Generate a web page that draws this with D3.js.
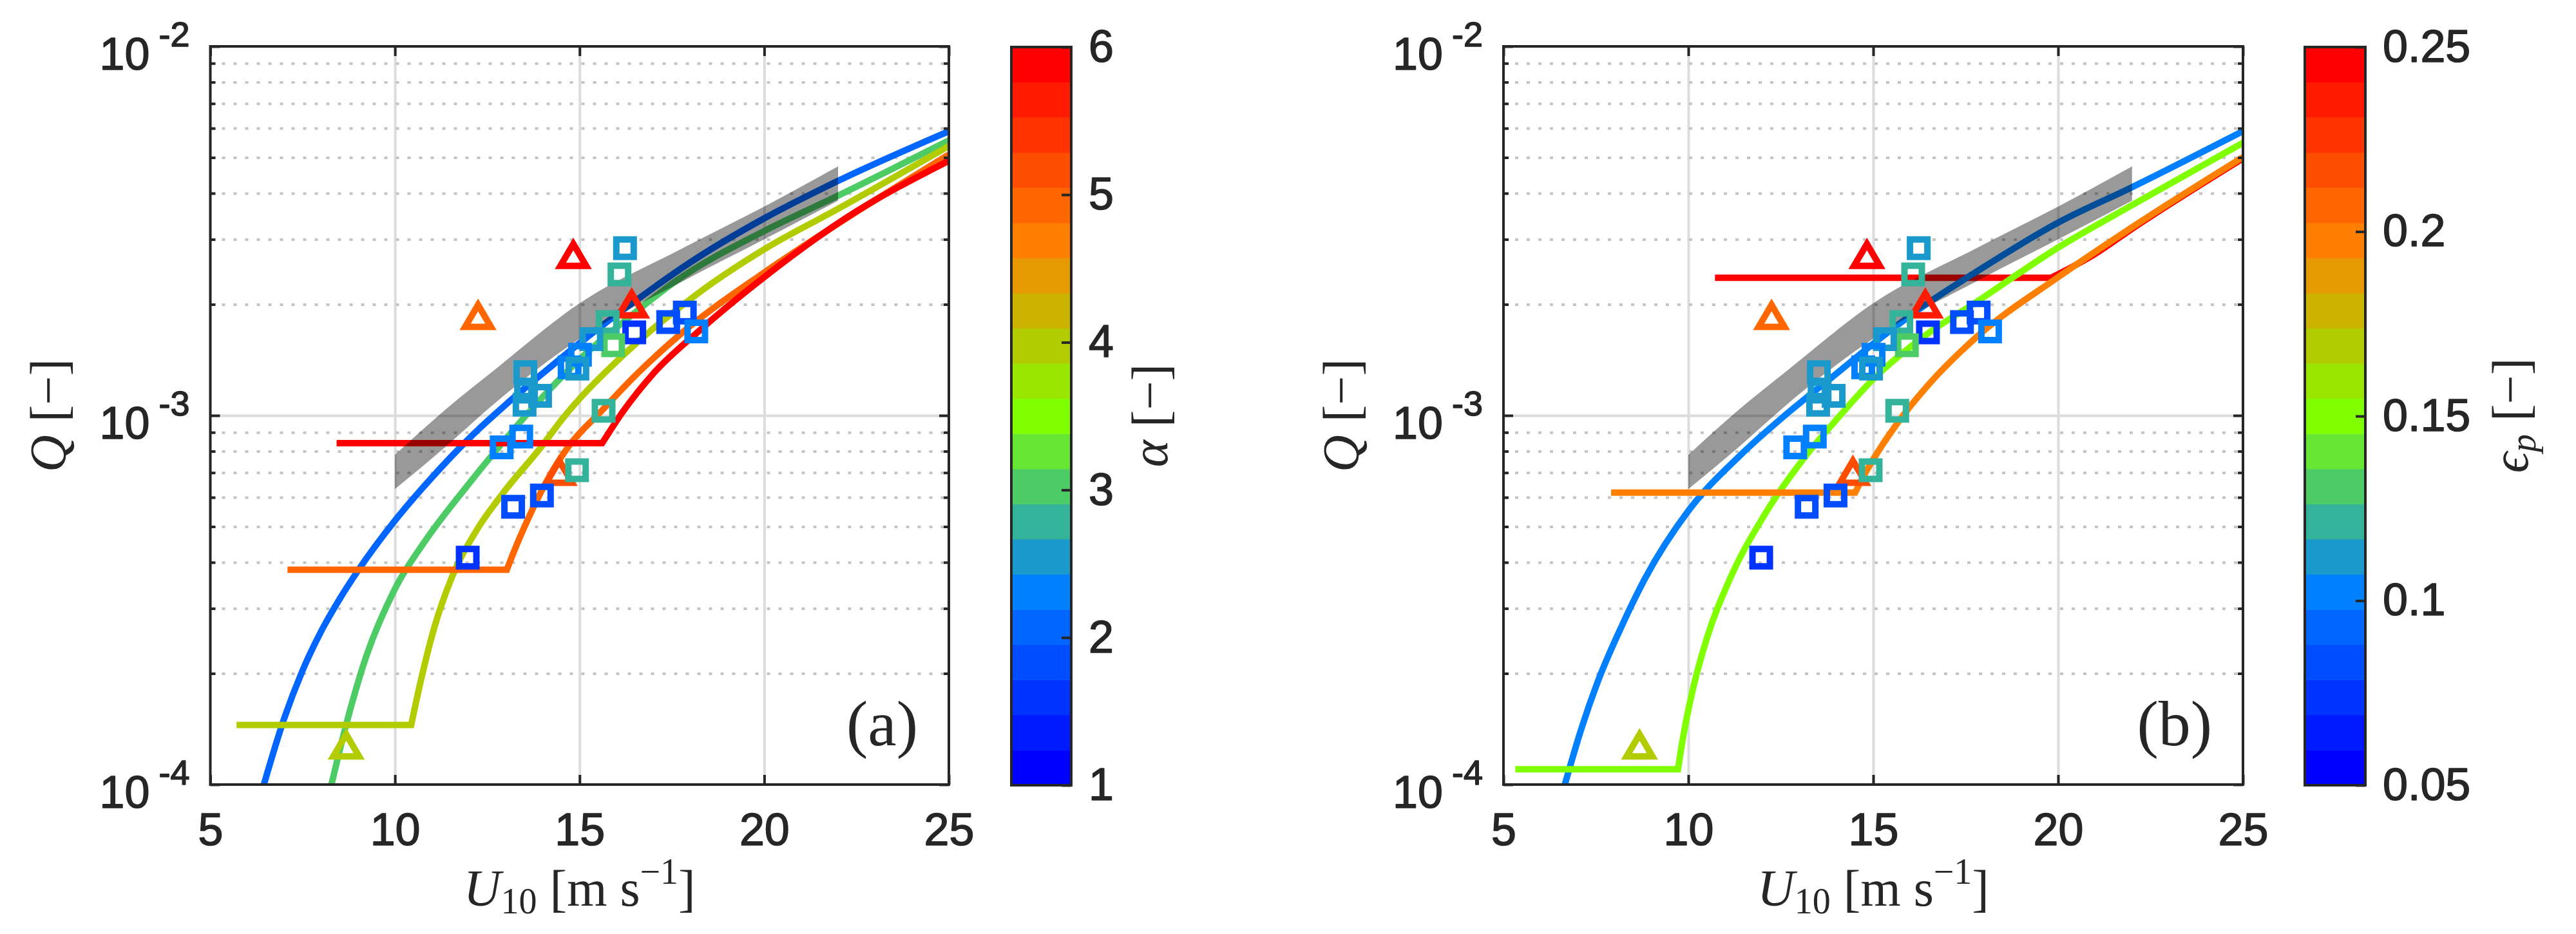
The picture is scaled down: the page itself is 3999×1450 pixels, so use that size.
<!DOCTYPE html>
<meta charset="utf-8">
<style>
body { margin: 0; background: #fff; }
svg { display: block; }
.tk text { font-family: "Liberation Sans", Arial, sans-serif; fill: #262626;
           stroke: #262626; stroke-width: 1.5px; stroke-linejoin: round; }
.tx { font-family: "Liberation Serif", "DejaVu Serif", serif; fill: #262626; }
</style>
<body>
<script src="https://d3js.org/d3.v7.min.js"></script>
<script>
var W = 3999, H = 1450;

// 21-level colormap used by both colorbars
var cmap = ["#0000FF","#001AFF","#0033FF","#004DFF","#0066FF","#0080FF","#1A99CC",
            "#33B399","#4DCC66","#66E633","#80FF00","#99E600","#B3CC00","#CCB300",
            "#E69900","#FF8000","#FF6600","#FF4D00","#FF3300","#FF1A00","#FF0000"];

// panel (a): model curves for alpha = 2..6  (plateau = [start U, level])
var uA2 = [6.45, 7.0, 7.5, 8.0, 8.5, 9.0, 10, 11, 12, 13, 14, 15, 16.5, 18, 20, 22, 25];
var qA2 = [1.00e-4, 1.51e-4, 2.04e-4, 2.60e-4, 3.18e-4, 3.80e-4, 5.19e-4, 6.79e-4, 8.65e-4,
           1.07e-3, 1.30e-3, 1.57e-3, 2.04e-3, 2.60e-3, 3.42e-3, 4.32e-3, 5.89e-3];
var uA3 = [8.28, 8.7, 9.2, 10.0, 10.85, 11.9, 12.9, 13.7, 15.0, 16.3, 17.6, 20.0, 22.0, 25.0];
var qA3 = [1.00e-4, 1.48e-4, 2.19e-4, 3.39e-4, 4.62e-4, 6.34e-4, 8.41e-4, 1.04e-3, 1.42e-3,
           1.83e-3, 2.31e-3, 3.16e-3, 3.94e-3, 5.56e-3];
var floorA4 = [5.71, 1.45e-4];
var uA4 = [10.44, 10.71, 11.06, 11.54, 12.23, 12.92, 13.95, 14.57, 15.0, 16.16, 18.2, 20.0, 22.0, 25.0];
var qA4 = [1.45e-4, 1.93e-4, 2.65e-4, 3.64e-4, 4.92e-4, 6.15e-4, 8.19e-4, 9.89e-4, 1.11e-3,
           1.45e-3, 2.14e-3, 2.82e-3, 3.63e-3, 5.37e-3];
var floorA5 = [7.09, 3.82e-4];
var uA5 = [13.03, 13.3, 13.7, 14.1, 14.7, 15.6, 16.5, 17.76, 20, 22, 25];
var qA5 = [3.82e-4, 4.47e-4, 5.50e-4, 6.61e-4, 8.24e-4, 1.03e-3, 1.28e-3, 1.67e-3, 2.44e-3, 3.31e-3, 5.09e-3];
var floorA6 = [8.42, 8.41e-4];
var uA6 = [15.61, 16.16, 17.0, 18.25, 20, 22.2, 25];
var qA6 = [8.41e-4, 1.02e-3, 1.30e-3, 1.70e-3, 2.37e-3, 3.42e-3, 4.90e-3];

// panel (b): model curves for eps_p = 0.10 .. 0.25
var uB10 = [6.66, 7.1, 7.55, 8.2, 8.83, 10.02, 11.38, 12.66, 13.93, 15.02, 16.49, 17.76, 20, 21.97, 25];
var qB10 = [1.00e-4, 1.41e-4, 1.90e-4, 2.69e-4, 3.62e-4, 5.55e-4, 7.76e-4, 1.01e-3, 1.28e-3,
            1.57e-3, 2.02e-3, 2.44e-3, 3.33e-3, 4.14e-3, 5.89e-3];
var floorB15 = [5.32, 1.10e-4];
var uB15 = [9.72, 9.85, 10.11, 10.49, 11.13, 12.02, 13.17, 13.93, 15.02, 16.49, 17.76, 20, 22.01, 25];
var qB15 = [1.10e-4, 1.33e-4, 1.79e-4, 2.47e-4, 3.62e-4, 5.30e-4, 7.76e-4, 9.55e-4, 1.26e-3,
            1.67e-3, 2.02e-3, 2.85e-3, 3.72e-3, 5.48e-3];
var floorB20 = [7.91, 6.18e-4];
var uB20 = [14.51, 14.83, 15.66, 16.49, 17.76, 20, 22.01, 25];
var qB20 = [6.18e-4, 7.11e-4, 9.55e-4, 1.21e-3, 1.62e-3, 2.37e-3, 3.24e-3, 5.01e-3];
var floorB25 = [10.72, 2.36e-3];
var uB25 = [19.81, 21.0, 22.01, 25];
var qB25 = [2.36e-3, 2.74e-3, 3.21e-3, 4.97e-3];

// grey band (same in both panels)
var bandU  = [10.0, 11.38, 12.66, 15.02, 17.76, 20.0, 22.0];
var bandHi = [7.82e-4, 1.04e-3, 1.32e-3, 2.02e-3, 2.83e-3, 3.68e-3, 4.73e-3];
var bandLo = [6.32e-4, 8.24e-4, 1.07e-3, 1.62e-3, 2.30e-3, 3.00e-3, 3.82e-3];

// observations, coloured by alpha in both panels
var obsU = [12.25, 14.83, 16.41, 14.45, 8.68,
            16.23, 16.08, 15.76, 16.48, 15.91, 15.32, 15.01, 14.73, 14.94, 17.40, 17.85, 18.16,
            13.53, 13.55, 13.51, 13.93, 12.89, 13.42, 15.65, 14.93, 13.98, 13.20, 11.97];
var obsQ = [1.88e-3, 2.75e-3, 2.02e-3, 7.11e-4, 1.29e-4,
            2.84e-3, 2.41e-3, 1.79e-3, 1.68e-3, 1.55e-3, 1.61e-3, 1.46e-3, 1.35e-3, 1.34e-3, 1.79e-3, 1.90e-3, 1.69e-3,
            1.31e-3, 1.16e-3, 1.07e-3, 1.13e-3, 8.20e-4, 8.77e-4, 1.03e-3, 7.11e-4, 6.07e-4, 5.66e-4, 4.12e-4];
var obsAlpha = [4.95, 5.9, 5.65, 5.2, 4.0,
                2.55, 2.8, 2.8, 1.6, 3.05, 2.55, 2.3, 2.3, 2.55, 1.85, 1.85, 2.3,
                2.55, 2.55, 2.55, 2.55, 2.3, 2.3, 2.8, 2.8, 1.85, 1.85, 1.6];
var obsShape = ["tri","tri","tri","tri","tri",
                "sq","sq","sq","sq","sq","sq","sq","sq","sq","sq","sq","sq",
                "sq","sq","sq","sq","sq","sq","sq","sq","sq","sq","sq"];

var xTicks = [5, 10, 15, 20, 25];
var yMajor = [1e-4, 1e-3, 1e-2];
var yMinor = [2e-4, 3e-4, 4e-4, 5e-4, 6e-4, 7e-4, 8e-4, 9e-4,
              2e-3, 3e-3, 4e-3, 5e-3, 6e-3, 7e-3, 8e-3, 9e-3];
var alphaTicks = [1, 2, 3, 4, 5, 6];
var epsTicks = [0.05, 0.1, 0.15, 0.2, 0.25];

var panels = [
  { left: 326.5, right: 1473, cbL: 1570, cbR: 1663, lw: 10, letter: "(a)",
    cdom: [1, 6], cticks: alphaTicks, titleX: 1812, ylabX: 101.5,
    curves: [ {v: 2, u: uA2, q: qA2}, {v: 3, u: uA3, q: qA3}, {v: 4, u: uA4, q: qA4, fl: floorA4},
              {v: 5, u: uA5, q: qA5, fl: floorA5}, {v: 6, u: uA6, q: qA6, fl: floorA6} ] },
  { left: 2334, right: 3482, cbL: 3578, cbR: 3672, lw: 10, letter: "(b)",
    cdom: [0.05, 0.25], cticks: epsTicks, titleX: 3924, ylabX: 2109,
    curves: [ {v: 0.25, u: uB25, q: qB25, fl: floorB25}, {v: 0.1, u: uB10, q: qB10},
              {v: 0.15, u: uB15, q: qB15, fl: floorB15}, {v: 0.2, u: uB20, q: qB20, fl: floorB20} ] }
];

var T = 72, B = 1218, ink = "#262626";

var svg = d3.select("body").append("svg")
    .attr("width", W)
    .attr("height", H);

var mcol = d3.scaleQuantize().domain([1, 6]).range(cmap);

panels.forEach(function(p, pi) {
  var x = d3.scaleLinear().domain([5, 25]).range([p.left, p.right]);
  var y = d3.scaleLog().domain([1e-4, 1e-2]).range([B, T]);
  var col = d3.scaleQuantize().domain(p.cdom).range(cmap);
  var g = svg.append("g");

  // grid
  g.append("g").attr("transform", "translate(0," + B + ")")
    .call(d3.axisBottom(x).tickValues([10, 15, 20]).tickSize(-(B - T)).tickFormat(""))
    .call(function(s) { s.select(".domain").remove(); })
    .selectAll("line").attr("stroke", "#dcdcdc").attr("stroke-width", 4);
  g.append("g").attr("transform", "translate(" + p.left + ",0)")
    .call(d3.axisLeft(y).tickValues([1e-3]).tickSize(-(p.right - p.left)).tickFormat(""))
    .call(function(s) { s.select(".domain").remove(); })
    .selectAll("line").attr("stroke", "#dcdcdc").attr("stroke-width", 4);
  g.append("g").attr("transform", "translate(" + p.left + ",0)")
    .call(d3.axisLeft(y).tickValues(yMinor).tickSize(-(p.right - p.left)).tickFormat(""))
    .call(function(s) { s.select(".domain").remove(); })
    .selectAll("line").attr("stroke", "#c4c4c4").attr("stroke-width", 4)
    .attr("stroke-dasharray", "5,13");

  // model curves
  g.append("clipPath").attr("id", "clip" + pi).append("rect")
    .attr("x", p.left).attr("y", T).attr("width", p.right - p.left).attr("height", B - T);
  var lines = g.append("g").attr("clip-path", "url(#clip" + pi + ")");
  var line = d3.line().x(function(d) { return x(d[0]); }).y(function(d) { return y(d[1]); })
    .curve(d3.curveMonotoneX);
  p.curves.forEach(function(c) {
    var d = line(d3.zip(c.u, c.q));
    if (c.fl) d = "M" + x(c.fl[0]) + "," + y(c.fl[1]) + "L" + d.substring(1);
    lines.append("path").attr("d", d)
      .attr("fill", "none").attr("stroke", col(c.v)).attr("stroke-width", p.lw);
  });

  // grey band
  var area = d3.area().x(function(d) { return x(d[0]); })
    .y0(function(d) { return y(d[1]); }).y1(function(d) { return y(d[2]); })
    .curve(d3.curveMonotoneX);
  g.append("path").attr("d", area(d3.zip(bandU, bandLo, bandHi)))
    .attr("fill", "#000").attr("fill-opacity", 0.4);

  // observations
  var obs = d3.range(obsU.length).map(function(i) {
    return {u: obsU[i], q: obsQ[i], a: obsAlpha[i], s: obsShape[i]};
  });
  g.append("g").selectAll("path").data(obs).enter().append("path")
    .attr("transform", function(d) { return "translate(" + x(d.u) + "," + y(d.q) + ")"; })
    .attr("d", function(d) {
      return d.s === "sq" ? "M-13.5,-13.5H13.5V13.5H-13.5Z" : "M0,-14.5L20,19.5L-20,19.5Z";
    })
    .attr("fill", "none").attr("stroke", function(d) { return mcol(d.a); })
    .attr("stroke-width", 10).attr("stroke-linejoin", "miter");

  // axes
  var tk = g.append("g").attr("class", "tk");
  tk.append("g").attr("transform", "translate(0," + B + ")")
    .call(d3.axisBottom(x).tickValues(xTicks).tickSizeInner(-15).tickSizeOuter(0).tickPadding(44));
  tk.append("g").attr("transform", "translate(0," + T + ")")
    .call(d3.axisTop(x).tickValues(xTicks).tickSizeInner(-15).tickSizeOuter(0).tickFormat(""));
  var yl = tk.append("g").attr("transform", "translate(" + p.left + ",0)")
    .call(d3.axisLeft(y).tickValues(yMajor).tickSizeInner(-15).tickSizeOuter(0).tickFormat(""));
  tk.append("g").attr("transform", "translate(" + p.left + ",0)")
    .call(d3.axisLeft(y).tickValues(yMinor).tickSizeInner(-8).tickSizeOuter(0).tickFormat(""));
  tk.append("g").attr("transform", "translate(" + p.right + ",0)")
    .call(d3.axisRight(y).tickValues(yMajor).tickSizeInner(-15).tickSizeOuter(0).tickFormat(""));
  tk.append("g").attr("transform", "translate(" + p.right + ",0)")
    .call(d3.axisRight(y).tickValues(yMinor).tickSizeInner(-8).tickSizeOuter(0).tickFormat(""));
  tk.selectAll(".domain").remove();
  tk.selectAll("line").attr("stroke", ink).attr("stroke-width", 4);
  tk.selectAll("text").attr("font-size", 70).attr("fill", ink);

  // 10^n labels
  yl.selectAll(".tick").each(function(v) {
    var t = d3.select(this).append("text").attr("x", -32).attr("y", 35)
      .attr("text-anchor", "end").attr("font-size", 70).attr("fill", ink);
    t.append("tspan").text("10");
    t.append("tspan").attr("dx", 14).attr("dy", -36).attr("font-size", 54)
      .text(String(Math.round(Math.log10(v))));
  });

  g.append("rect").attr("x", p.left).attr("y", T).attr("width", p.right - p.left).attr("height", B - T)
    .attr("fill", "none").attr("stroke", ink).attr("stroke-width", 4);

  // colorbar
  var cy = d3.scaleLinear().domain(p.cdom).range([B + 1, T + 1]);
  var step = (p.cdom[1] - p.cdom[0]) / cmap.length;
  g.append("g").selectAll("rect").data(cmap).enter().append("rect")
    .attr("x", p.cbL).attr("width", p.cbR - p.cbL)
    .attr("y", function(c, i) { return cy(p.cdom[0] + (i + 1) * step); })
    .attr("height", function(c, i) { return cy(p.cdom[0] + i * step) - cy(p.cdom[0] + (i + 1) * step) + 0.5; })
    .attr("fill", function(c) { return c; });
  var cb = g.append("g").attr("class", "tk").attr("transform", "translate(" + p.cbR + ",0)")
    .call(d3.axisRight(cy).tickValues(p.cticks).tickSizeInner(-15).tickSizeOuter(0).tickPadding(27)
      .tickFormat(function(d) { return String(d); }));
  cb.select(".domain").remove();
  cb.selectAll("line").attr("stroke", ink).attr("stroke-width", 4);
  cb.selectAll("text").attr("font-size", 70).attr("fill", ink);
  g.append("rect").attr("x", p.cbL).attr("y", T + 1).attr("width", p.cbR - p.cbL).attr("height", B - T)
    .attr("fill", "none").attr("stroke", ink).attr("stroke-width", 4);

  // labels
  var xl = g.append("text").attr("class", "tx").attr("x", (p.left + p.right) / 2).attr("y", 1406)
    .attr("text-anchor", "middle").attr("font-size", 80);
  xl.append("tspan").attr("font-style", "italic").text("U");
  xl.append("tspan").attr("font-size", 56).attr("dy", 12).text("10");
  xl.append("tspan").attr("dy", -12).text(" [m s");
  xl.append("tspan").attr("font-size", 56).attr("dy", -34).text("\u22121");
  xl.append("tspan").attr("dy", 34).text("]");

  var ql = g.append("text").attr("class", "tx").attr("text-anchor", "middle").attr("font-size", 80)
    .attr("transform", "translate(" + p.ylabX + "," + (T + B) / 2 + ") rotate(-90)");
  ql.append("tspan").attr("font-style", "italic").text("Q");
  ql.append("tspan").text(" [\u2212]");

  var ct = g.append("text").attr("class", "tx").attr("text-anchor", "middle").attr("font-size", 80)
    .attr("transform", "translate(" + p.titleX + "," + (T + B) / 2 + ") rotate(-90)");
  if (pi === 0) {
    ct.append("tspan").attr("font-style", "italic").text("\u03B1");
    ct.append("tspan").text(" [\u2212]");
  } else {
    ct.append("tspan").attr("font-style", "italic").text("\u03F5");
    ct.append("tspan").attr("font-style", "italic").attr("font-size", 56).attr("dy", 12).text("p");
    ct.append("tspan").attr("dy", -12).text(" [\u2212]");
  }

  g.append("text").attr("class", "tx").attr("x", p.right - 48).attr("y", 1157)
    .attr("text-anchor", "end").attr("font-size", 100).text(p.letter);
});
</script>
</body>
</html>
